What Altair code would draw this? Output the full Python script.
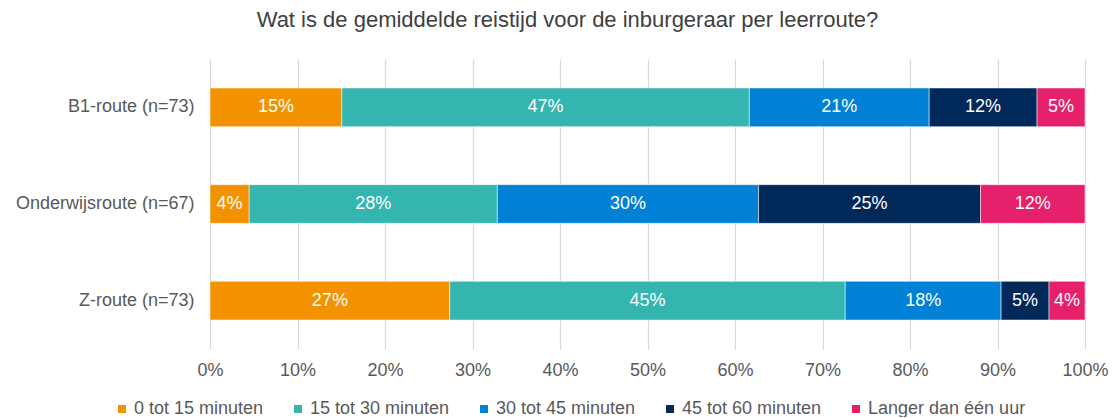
import altair as alt
import pandas as pd

categories = ["B1-route (n=73)", "Onderwijsroute (n=67)", "Z-route (n=73)"]
series = ["0 tot 15 minuten", "15 tot 30 minuten", "30 tot 45 minuten",
          "45 tot 60 minuten", "Langer dan één uur"]
colors = ["#F39200", "#34B5B0", "#0081D6", "#00295A", "#E6206A"]

s0 = [15.07, 4.48, 27.40]
s1 = [46.57, 28.36, 45.20]
s2 = [20.55, 29.85, 17.81]
s3 = [12.33, 25.37, 5.48]
s4 = [5.48, 11.94, 4.11]
values = [s0, s1, s2, s3, s4]

x_ticks = [0, 10, 20, 30, 40, 50, 60, 70, 80, 90, 100]

rows = []
for si, (name, vals) in enumerate(zip(series, values)):
    for ci, cat in enumerate(categories):
        rows.append({"cat": cat, "series": name, "order": si, "value": vals[ci]})
df = pd.DataFrame(rows)

FONT = "Liberation Sans"

base = alt.Chart(df).transform_stack(
    stack="value", groupby=["cat"], as_=["x0", "x1"],
    sort=[alt.SortField("order", order="ascending")]
).transform_calculate(
    mid="(datum.x0 + datum.x1) / 2",
    label="round(datum.value) + '%'"
)

y_enc = alt.Y("cat:N", sort=categories, title=None,
              scale=alt.Scale(paddingInner=0.6, paddingOuter=0.3),
              axis=alt.Axis(domain=False, ticks=False, labelFont=FONT,
                            labelFontSize=18, labelColor="#595959",
                            labelPadding=16, grid=False))

bars = base.mark_bar(stroke="white", strokeWidth=0.5).encode(
    x=alt.X("x0:Q", title=None,
            scale=alt.Scale(domain=[0, 100], nice=False, clamp=True),
            axis=alt.Axis(values=x_ticks, labelExpr="datum.value + '%'",
                          domain=False, ticks=False, grid=True,
                          gridColor="#D9D9D9", gridWidth=1.2,
                          labelFlush=False,
                          labelFont=FONT, labelFontSize=18,
                          labelColor="#595959", labelPadding=12)),
    x2="x1:Q",
    y=y_enc,
    color=alt.Color("series:N", sort=series,
                    scale=alt.Scale(domain=series, range=colors),
                    legend=alt.Legend(title=None, orient="none",
                                      direction="horizontal",
                                      legendX=-97, legendY=341,
                                      symbolType="square", symbolSize=64,
                                      symbolStrokeWidth=0,
                                      labelFont=FONT, labelFontSize=18,
                                      labelColor="#595959", labelOffset=3,
                                      columnPadding=25, padding=0)),
)

texts = base.mark_text(color="white", font=FONT, fontSize=18,
                       baseline="middle", align="center").encode(
    x="mid:Q",
    y=alt.Y("cat:N", sort=categories),
    text="label:N",
)

chart = alt.layer(bars, texts).properties(
    width=875, height=290,
    autosize=alt.AutoSizeParams(type="none"),
    padding={"left": 202, "top": 51, "right": 24, "bottom": 68},
    title=alt.TitleParams(
        "Wat is de gemiddelde reistijd voor de inburgeraar per leerroute?",
        font=FONT, fontSize=22, fontWeight="normal", color="#404040",
        anchor="middle", dx=-80, offset=27),
).configure_view(stroke=None)

chart.save("out.html", embed_options={"renderer": "svg", "actions": False})
